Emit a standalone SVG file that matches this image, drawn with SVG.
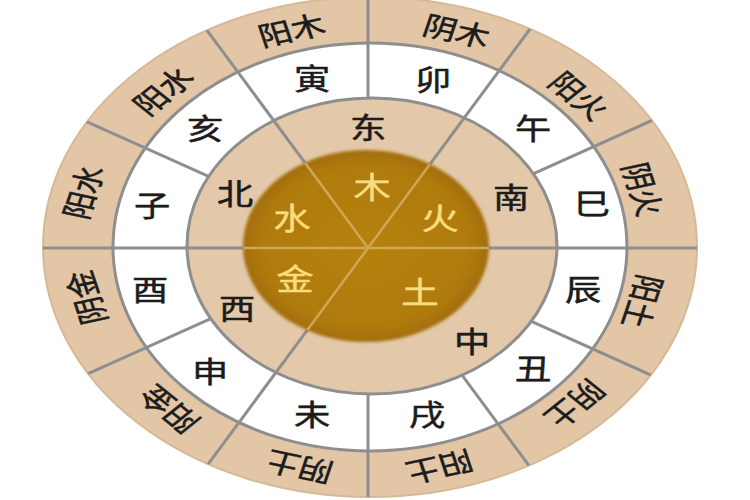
<svg xmlns="http://www.w3.org/2000/svg" width="750" height="500" viewBox="0 0 750 500">
<style>
.t{font-family:"Noto Sans CJK SC","Noto Sans",sans-serif;text-anchor:middle;dominant-baseline:central;fill:#1c1c1c;stroke:#1c1c1c;stroke-width:0.5}
.o{font-size:27px}
.w{font-size:29px}
.m{font-size:29px}
.c{font-size:30px;fill:#F7DC80;stroke:#F7DC80;stroke-width:0.4}
.ln{stroke:#8E8E8E;stroke-width:3;fill:none}
.lb{stroke:#CFA656;stroke-width:2.5;fill:none}
</style>
<defs>
<clipPath id="clipOuter"><ellipse cx="370" cy="247" rx="327" ry="250"/></clipPath>
<clipPath id="clipMid"><ellipse cx="372" cy="246" rx="185" ry="148"/></clipPath>
<clipPath id="clipCore"><ellipse cx="366" cy="246" rx="123" ry="96"/></clipPath>
<radialGradient id="gCore" cx="50%" cy="50%" r="50%">
<stop offset="0" stop-color="#B5820F"/>
<stop offset="0.85" stop-color="#AF7A0E"/>
<stop offset="1" stop-color="#A36E0C"/>
</radialGradient>
<filter id="soft" x="-10%" y="-10%" width="120%" height="120%"><feGaussianBlur stdDeviation="1.5"/></filter>
</defs>
<rect width="750" height="500" fill="#FFFFFF"/>
<g id="rings">
<ellipse cx="370" cy="247" rx="327" ry="250" fill="#E2C6A6" stroke="#D6BA98" stroke-width="2"/>
<ellipse cx="370" cy="247" rx="257" ry="204" fill="#FFFFFF"/>
</g>
<g id="connectors">
<g clip-path="url(#clipOuter)" class="ln">
<path d="M30 248 H710"/>
<path d="M368 -10 V510"/>
<path d="M-15 76 L751 420"/>
<path d="M-15 420 L751 76"/>
<path d="M118 -90 L618 586"/>
<path d="M118 586 L618 -90"/>
</g>
<ellipse cx="370" cy="247" rx="257" ry="204" class="ln"/>
<ellipse cx="372" cy="246" rx="185" ry="148" fill="#E3C8A9" stroke="#8E8E8E" stroke-width="3"/>
<g clip-path="url(#clipMid)" class="ln">
<path d="M368 248 H140"/>
<path d="M368 248 H600"/>
<path d="M368 248 L118 -90"/>
<path d="M368 248 L618 -90"/>
<path d="M368 248 L118 586"/>
</g>
<ellipse cx="366" cy="246" rx="123" ry="96" fill="url(#gCore)" filter="url(#soft)"/>
<g clip-path="url(#clipCore)" class="lb">
<path d="M368 248 H230"/>
<path d="M368 248 H500"/>
<path d="M368 248 L118 -90"/>
<path d="M368 248 L618 -90"/>
<path d="M368 248 L118 586"/>
</g>
</g>
<g id="outer-labels">
<text class="t o" transform="translate(291 29) scale(1.25 1) rotate(-15)">阳木</text>
<text class="t o" transform="translate(457 30) scale(1.25 1) rotate(15)">阴木</text>
<text class="t o" transform="translate(580 95) scale(1.25 1) rotate(45)">阳火</text>
<text class="t o" transform="translate(644 189) scale(1.25 1) rotate(75)">阴火</text>
<text class="t o" transform="translate(644 302) scale(1.25 1) rotate(105)">阳土</text>
<text class="t o" transform="translate(576 405) scale(1.25 1) rotate(135)">阴土</text>
<text class="t o" transform="translate(440 468) scale(1.25 1) rotate(165)">阳土</text>
<text class="t o" transform="translate(299 468) scale(1.25 1) rotate(-165)">阴土</text>
<text class="t o" transform="translate(168 410) scale(1.25 1) rotate(-135)">阳金</text>
<text class="t o" transform="translate(85 298) scale(1.25 1) rotate(-105)">阴金</text>
<text class="t o" transform="translate(82 192) scale(1.25 1) rotate(-75)">阳水</text>
<text class="t o" transform="translate(162 90) scale(1.25 1) rotate(-45)">阳水</text>
</g>
<g id="branches">
<text class="t w" transform="translate(312 77) scale(1.25 1)">寅</text>
<text class="t w" transform="translate(433 78) scale(1.25 1)">卯</text>
<text class="t w" transform="translate(533 127) scale(1.25 1)">午</text>
<text class="t w" transform="translate(592 202) scale(1.25 1)">巳</text>
<text class="t w" transform="translate(583 288) scale(1.25 1)">辰</text>
<text class="t w" transform="translate(533 367) scale(1.25 1)">丑</text>
<text class="t w" transform="translate(427 413) scale(1.25 1)">戌</text>
<text class="t w" transform="translate(312 413) scale(1.25 1)">未</text>
<text class="t w" transform="translate(210 370) scale(1.25 1)">申</text>
<text class="t w" transform="translate(150 288) scale(1.25 1)">酉</text>
<text class="t w" transform="translate(152 204) scale(1.25 1)">子</text>
<text class="t w" transform="translate(205 127) scale(1.25 1)">亥</text>
</g>
<g id="directions">
<text class="t m" transform="translate(368 126) scale(1.25 1)">东</text>
<text class="t m" transform="translate(511 196) scale(1.25 1)">南</text>
<text class="t m" transform="translate(472 340) scale(1.25 1)">中</text>
<text class="t m" transform="translate(237 307) scale(1.25 1)">西</text>
<text class="t m" transform="translate(235 192) scale(1.25 1)">北</text>
</g>
<g id="elements">
<text class="t c" transform="translate(372 185) scale(1.25 1)">木</text>
<text class="t c" transform="translate(440 216) scale(1.25 1)">火</text>
<text class="t c" transform="translate(420 290) scale(1.25 1)">土</text>
<text class="t c" transform="translate(295 277) scale(1.25 1)">金</text>
<text class="t c" transform="translate(292 216) scale(1.25 1)">水</text>
</g>
</svg>
